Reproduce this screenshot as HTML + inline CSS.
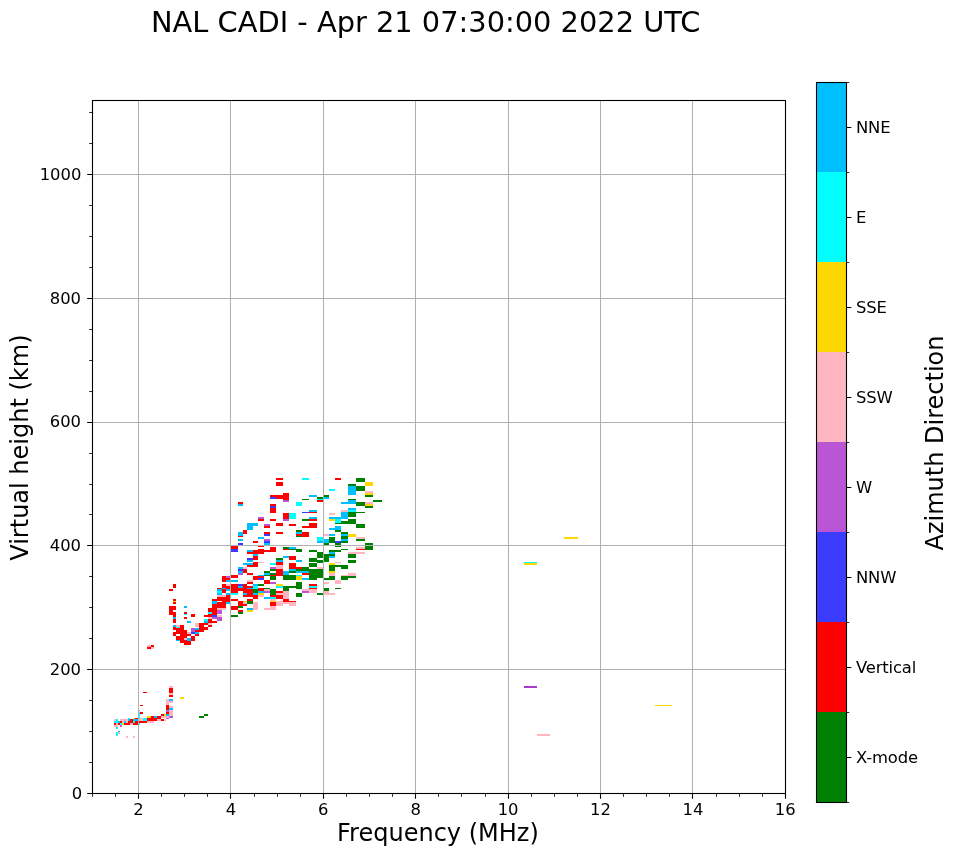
<!DOCTYPE html>
<html lang="en"><head><meta charset="utf-8"><title>NAL CADI - Apr 21 07:30:00 2022 UTC</title>
<style>html,body{margin:0;padding:0;background:#fff}body{width:958px;height:857px;overflow:hidden}svg{display:block}text{font-family:"DejaVu Sans","Liberation Sans",sans-serif;fill:#000}.t{font-size:16.4px}.l{font-size:24px}.ti{font-size:28.85px}</style></head><body>
<svg width="958" height="857" viewBox="0 0 958 857">
<rect width="958" height="857" fill="#fff"/>
<g id="data" shape-rendering="crispEdges">
<path fill="#ff0000" d="M140 705h3v1h-3zM140 712h3v2h-3zM161 714h3v2h-3zM151 716h3v2h-3zM157 716h4v2h-4zM135 718h3v1h-3zM147 718h10v3h-10zM157 718h4v1h-4zM161 719h3v2h-3zM130 719h3v4h-3zM120 721h2v2h-2zM128 721h5v2h-5zM135 721h3v2h-3zM139 721h8v2h-8zM114 723h2v2h-2zM118 723h2v2h-2zM124 723h6v2h-6zM133 723h5v2h-5zM169 688h4v5h-4zM169 695h4v2h-4zM166 705h3v5h-3zM166 712h3v2h-3zM173 599h3v2h-3zM173 602h3v2h-3zM169 606h7v4h-7zM169 610h4v2h-4zM169 612h7v3h-7zM173 615h3v2h-3zM173 619h3v4h-3zM173 627h3v3h-3zM173 632h3v4h-3zM176 628h4v6h-4zM176 636h4v4h-4zM180 625h4v18h-4zM184 612h3v2h-3zM184 617h3v2h-3zM184 630h3v8h-3zM184 640h3v5h-3zM187 634h4v2h-4zM187 641h4v4h-4zM191 614h4v3h-4zM191 636h4v5h-4zM195 630h4v2h-4zM195 634h4v2h-4zM199 623h5v9h-5zM204 615h4v2h-4zM204 623h4v2h-4zM204 627h4v3h-4zM208 608h4v4h-4zM208 614h4v3h-4zM208 619h4v4h-4zM208 625h4v2h-4zM212 599h5v2h-5zM212 604h5v11h-5zM212 621h5v2h-5zM217 597h5v4h-5zM217 602h5v6h-5zM173 584h3v4h-3zM169 589h4v2h-4zM151 645h3v2h-3zM147 647h4v2h-4zM143 692h4v1h-4zM217 588h5v1h-5zM222 576h4v6h-4zM222 584h4v4h-4zM222 589h4v4h-4zM222 597h4v11h-4zM226 578h4v2h-4zM226 586h4v3h-4zM226 595h4v7h-4zM231 575h7v3h-7zM231 584h7v9h-7zM231 599h7v2h-7zM231 606h7v4h-7zM238 588h5v3h-5zM238 601h5v5h-5zM238 610h5v2h-5zM243 584h4v9h-4zM243 595h4v2h-4zM243 604h4v2h-4zM247 582h6v2h-6zM247 586h6v2h-6zM247 589h6v8h-6zM247 599h6v2h-6zM253 576h5v4h-5zM253 595h5v4h-5zM258 576h6v2h-6zM258 588h6v3h-6zM264 580h6v4h-6zM231 545h7v4h-7zM238 536h5v1h-5zM243 530h4v4h-4zM243 569h4v4h-4zM247 552h6v2h-6zM247 565h6v2h-6zM247 573h6v2h-6zM253 541h5v2h-5zM253 550h5v4h-5zM253 556h5v4h-5zM253 562h5v5h-5zM258 546h6v1h-6zM258 549h6v5h-6zM264 526h6v2h-6zM264 532h6v2h-6zM264 550h6v2h-6zM238 502h5v2h-5zM258 519h6v2h-6zM270 575h6v1h-6zM270 595h6v2h-6zM270 602h6v4h-6zM276 575h7v1h-7zM276 591h7v2h-7zM276 595h7v4h-7zM283 599h6v3h-6zM289 601h7v1h-7zM309 584h8v2h-8zM309 588h8v1h-8zM270 547h6v5h-6zM276 523h7v3h-7zM276 532h7v2h-7zM276 562h7v3h-7zM276 569h7v7h-7zM283 549h6v1h-6zM289 524h7v2h-7zM289 556h7v4h-7zM289 563h7v6h-7zM296 534h6v2h-6zM296 567h6v2h-6zM302 526h7v2h-7zM302 532h7v5h-7zM302 573h7v2h-7zM309 523h8v5h-8zM270 495h6v2h-6zM270 504h6v2h-6zM270 508h6v5h-6zM270 519h6v2h-6zM276 478h7v2h-7zM276 482h7v4h-7zM276 495h7v4h-7zM283 493h6v7h-6zM283 513h6v6h-6zM309 512h8v1h-8zM309 519h8v2h-8zM317 500h6v2h-6zM356 549h9v1h-9zM335 478h6v2h-6z"/>
<path fill="#ffb6c1" d="M139 710h1v2h-1zM161 716h8v2h-8zM139 718h4v3h-4zM157 719h4v2h-4zM164 719h2v2h-2zM114 719h2v2h-2zM120 719h8v2h-8zM122 721h2v2h-2zM126 721h2v2h-2zM147 721h7v2h-7zM116 723h2v2h-2zM130 723h3v2h-3zM114 725h4v2h-4zM118 732h2v2h-2zM126 736h2v2h-2zM133 736h2v2h-2zM169 686h4v2h-4zM169 693h4v2h-4zM169 701h4v2h-4zM169 706h4v2h-4zM169 710h4v6h-4zM166 699h3v6h-3zM176 625h4v2h-4zM184 638h3v2h-3zM187 632h4v2h-4zM195 623h4v4h-4zM208 617h4v2h-4zM208 623h4v2h-4zM217 595h5v2h-5zM217 608h5v2h-5zM217 615h5v2h-5zM147 645h4v2h-4zM151 647h3v2h-3zM222 595h4v2h-4zM222 608h4v2h-4zM226 584h4v2h-4zM243 602h4v2h-4zM247 580h6v2h-6zM253 602h5v8h-5zM258 595h6v2h-6zM264 589h6v2h-6zM264 608h6v2h-6zM243 567h4v2h-4zM258 562h6v1h-6zM270 599h6v2h-6zM270 606h6v4h-6zM276 593h7v2h-7zM276 601h7v5h-7zM283 591h6v8h-6zM283 602h6v2h-6zM289 602h7v4h-7zM302 589h7v2h-7zM309 589h8v4h-8zM276 565h7v4h-7zM317 567h6v2h-6zM324 582h5v2h-5zM324 591h5v4h-5zM329 573h6v3h-6zM329 593h6v2h-6zM335 562h6v1h-6zM335 580h6v4h-6zM341 575h7v1h-7zM348 573h8v3h-8zM324 534h5v2h-5zM329 513h6v2h-6zM341 510h7v2h-7zM348 552h8v2h-8zM356 537h9v2h-9zM356 547h9v2h-9zM356 552h9v2h-9zM365 491h8v2h-8zM365 502h8v2h-8zM537 734h13v2h-13z"/>
<path fill="#00ffff" d="M139 712h1v7h-1zM128 718h2v1h-2zM143 718h4v3h-4zM116 719h2v2h-2zM114 721h4v2h-4zM133 721h2v2h-2zM120 723h2v2h-2zM139 723h1v2h-1zM116 727h2v2h-2zM116 732h2v4h-2zM176 627h4v1h-4zM184 614h3v1h-3zM204 619h4v2h-4zM208 612h4v2h-4zM217 591h5v2h-5zM231 593h7v2h-7zM253 586h5v3h-5zM270 597h6v2h-6zM276 586h7v2h-7zM296 575h6v1h-6zM309 586h8v2h-8zM270 563h6v2h-6zM317 537h6v4h-6zM289 513h7v6h-7zM296 502h6v4h-6zM302 478h7v2h-7zM317 499h6v1h-6zM335 519h6v4h-6zM348 510h8v2h-8zM329 489h6v2h-6zM524 562h13v1h-13z"/>
<path fill="#ffd700" d="M164 714h2v2h-2zM147 716h4v2h-4zM133 718h2v1h-2zM122 723h2v2h-2zM180 697h4v2h-4zM173 601h3v1h-3zM243 601h4v1h-4zM247 610h6v2h-6zM258 593h6v2h-6zM270 601h6v1h-6zM276 584h7v2h-7zM296 576h6v4h-6zM329 563h6v2h-6zM329 571h6v2h-6zM329 519h6v2h-6zM348 534h8v3h-8zM365 482h8v4h-8zM365 493h8v2h-8zM365 504h8v2h-8zM564 537h14v2h-14zM524 563h13v2h-13zM655 705h17v1h-17z"/>
<path fill="#00bfff" d="M166 714h3v2h-3zM154 716h3v2h-3zM128 719h2v2h-2zM133 719h5v2h-5zM118 721h2v2h-2zM124 721h2v2h-2zM118 731h2v1h-2zM169 699h4v2h-4zM169 708h4v2h-4zM173 617h3v2h-3zM173 625h3v2h-3zM176 640h4v1h-4zM184 606h3v2h-3zM187 621h4v2h-4zM187 638h4v3h-4zM195 628h4v2h-4zM195 632h4v2h-4zM204 621h4v2h-4zM212 601h5v3h-5zM217 589h5v2h-5zM217 593h5v2h-5zM222 588h4v1h-4zM226 580h4v2h-4zM226 589h4v2h-4zM226 593h4v2h-4zM226 602h4v2h-4zM231 580h7v2h-7zM238 586h5v2h-5zM243 593h4v2h-4zM247 588h6v1h-6zM247 608h6v2h-6zM253 584h5v2h-5zM253 593h5v2h-5zM258 575h6v1h-6zM258 591h6v2h-6zM264 597h6v2h-6zM238 532h5v4h-5zM238 539h5v2h-5zM238 567h5v2h-5zM238 571h5v2h-5zM243 563h4v2h-4zM247 523h6v7h-6zM247 550h6v2h-6zM247 560h6v2h-6zM247 563h6v2h-6zM253 523h5v3h-5zM253 554h5v2h-5zM258 537h6v2h-6zM264 543h6v2h-6zM264 573h6v2h-6zM238 504h5v2h-5zM302 578h7v2h-7zM276 560h7v2h-7zM283 556h6v2h-6zM283 571h6v4h-6zM289 547h7v2h-7zM289 569h7v2h-7zM296 532h6v2h-6zM296 560h6v2h-6zM296 571h6v2h-6zM302 571h7v2h-7zM317 541h6v2h-6zM309 495h8v2h-8zM309 510h8v2h-8zM309 517h8v2h-8zM324 539h5v4h-5zM329 517h6v2h-6zM329 528h6v2h-6zM329 534h6v2h-6zM329 552h6v2h-6zM329 556h6v2h-6zM335 517h6v2h-6zM335 526h6v4h-6zM341 512h7v7h-7zM341 534h7v2h-7zM341 539h7v2h-7zM348 508h8v2h-8zM324 497h5v2h-5zM341 502h7v2h-7zM348 486h8v9h-8zM348 500h8v4h-8z"/>
<path fill="#ba55d3" d="M166 718h3v1h-3zM120 725h2v2h-2zM169 716h4v2h-4zM166 710h3v2h-3zM191 628h4v4h-4zM212 617h5v2h-5zM217 610h5v4h-5zM217 617h5v4h-5zM226 576h4v2h-4zM264 591h6v2h-6zM238 573h5v2h-5zM264 524h6v2h-6zM264 539h6v2h-6zM258 517h6v2h-6zM270 582h6v2h-6zM302 591h7v2h-7zM270 567h6v2h-6zM283 500h6v2h-6zM283 519h6v2h-6z"/>
<path fill="#008000" d="M204 714h4v2h-4zM199 716h5v2h-5zM231 615h7v2h-7zM238 606h5v2h-5zM238 612h5v2h-5zM247 601h6v3h-6zM253 589h5v4h-5zM258 584h6v2h-6zM264 575h6v1h-6zM264 588h6v1h-6zM264 571h6v2h-6zM270 576h6v4h-6zM270 589h6v6h-6zM283 575h6v5h-6zM283 586h6v5h-6zM289 575h7v5h-7zM289 586h7v2h-7zM296 582h6v7h-6zM296 593h6v4h-6zM309 575h8v5h-8zM317 575h6v3h-6zM317 593h6v2h-6zM270 569h6v2h-6zM270 573h6v2h-6zM276 558h7v2h-7zM283 547h6v2h-6zM289 549h7v1h-7zM289 571h7v2h-7zM296 530h6v2h-6zM296 536h6v1h-6zM296 549h6v3h-6zM296 569h6v2h-6zM302 567h7v4h-7zM309 550h8v2h-8zM309 558h8v4h-8zM309 563h8v4h-8zM309 569h8v7h-8zM317 552h6v6h-6zM317 560h6v3h-6zM317 569h6v7h-6zM302 499h7v1h-7zM302 519h7v2h-7zM317 497h6v2h-6zM324 560h5v2h-5zM324 578h5v2h-5zM324 588h5v3h-5zM329 565h6v6h-6zM329 576h6v4h-6zM335 565h6v2h-6zM335 588h6v1h-6zM341 565h7v4h-7zM341 576h7v4h-7zM348 560h8v3h-8zM348 576h8v2h-8zM324 543h5v2h-5zM324 554h5v7h-5zM329 537h6v6h-6zM329 550h6v2h-6zM329 554h6v2h-6zM335 523h6v1h-6zM335 530h6v2h-6zM335 543h6v4h-6zM335 550h6v2h-6zM341 521h7v3h-7zM341 532h7v2h-7zM341 536h7v3h-7zM341 541h7v2h-7zM341 549h7v1h-7zM348 512h8v5h-8zM348 519h8v5h-8zM348 554h8v4h-8zM356 512h9v1h-9zM356 524h9v4h-9zM356 539h9v2h-9zM365 543h8v7h-8zM324 495h5v2h-5zM348 484h8v2h-8zM348 499h8v1h-8zM356 478h9v4h-9zM356 486h9v5h-9zM356 502h9v4h-9zM365 495h8v2h-8zM365 506h8v2h-8zM373 500h9v2h-9z"/>
<path fill="#3c3cff" d="M191 632h4v2h-4zM212 615h5v2h-5zM238 584h5v2h-5zM258 578h6v2h-6zM231 549h7v3h-7zM238 543h5v2h-5zM238 569h5v2h-5zM247 558h6v2h-6zM264 534h6v2h-6zM264 541h6v2h-6zM270 497h6v2h-6zM270 506h6v2h-6zM302 512h7v1h-7zM335 541h6v2h-6z"/>
<path fill="#ac3acb" d="M524 686h13v2h-13z"/>
</g>
<path d="M138.5 100.5V793.5M230.5 100.5V793.5M323.5 100.5V793.5M415.5 100.5V793.5M508.5 100.5V793.5M600.5 100.5V793.5M692.5 100.5V793.5M92.5 669.5H785.5M92.5 545.5H785.5M92.5 422.5H785.5M92.5 298.5H785.5M92.5 174.5H785.5" stroke="#b0b0b0" stroke-width="1" fill="none"/>
<path d="M138.5 793.5v5.3M230.5 793.5v5.3M323.5 793.5v5.3M415.5 793.5v5.3M508.5 793.5v5.3M600.5 793.5v5.3M692.5 793.5v5.3M785.5 793.5v5.3M92.5 793.5h-5.3M92.5 669.5h-5.3M92.5 545.5h-5.3M92.5 422.5h-5.3M92.5 298.5h-5.3M92.5 174.5h-5.3" stroke="#000" stroke-width="1.1" fill="none"/>
<path d="M92.5 793.5v3.3M115.5 793.5v3.3M161.5 793.5v3.3M184.5 793.5v3.3M207.5 793.5v3.3M254.5 793.5v3.3M277.5 793.5v3.3M300.5 793.5v3.3M346.5 793.5v3.3M369.5 793.5v3.3M392.5 793.5v3.3M438.5 793.5v3.3M461.5 793.5v3.3M485.5 793.5v3.3M531.5 793.5v3.3M554.5 793.5v3.3M577.5 793.5v3.3M623.5 793.5v3.3M646.5 793.5v3.3M669.5 793.5v3.3M716.5 793.5v3.3M739.5 793.5v3.3M762.5 793.5v3.3M92.5 762.5h-3.3M92.5 731.5h-3.3M92.5 700.5h-3.3M92.5 638.5h-3.3M92.5 607.5h-3.3M92.5 576.5h-3.3M92.5 514.5h-3.3M92.5 484.5h-3.3M92.5 453.5h-3.3M92.5 391.5h-3.3M92.5 360.5h-3.3M92.5 329.5h-3.3M92.5 267.5h-3.3M92.5 236.5h-3.3M92.5 205.5h-3.3M92.5 143.5h-3.3M92.5 112.5h-3.3" stroke="#000" stroke-width="0.83" fill="none"/>
<rect x="92.5" y="100.5" width="693.0" height="693.0" fill="none" stroke="#000" stroke-width="1.1"/>
<text class="t" x="138.50" y="815" text-anchor="middle">2</text>
<text class="t" x="230.90" y="815" text-anchor="middle">4</text>
<text class="t" x="323.30" y="815" text-anchor="middle">6</text>
<text class="t" x="415.70" y="815" text-anchor="middle">8</text>
<text class="t" x="508.10" y="815" text-anchor="middle">10</text>
<text class="t" x="600.50" y="815" text-anchor="middle">12</text>
<text class="t" x="692.90" y="815" text-anchor="middle">14</text>
<text class="t" x="785.30" y="815" text-anchor="middle">16</text>
<text class="t" x="82.30" y="798.70" text-anchor="end">0</text>
<text class="t" x="81.00" y="674.95" text-anchor="end">200</text>
<text class="t" x="81.00" y="551.20" text-anchor="end">400</text>
<text class="t" x="81.00" y="427.45" text-anchor="end">600</text>
<text class="t" x="81.00" y="303.70" text-anchor="end">800</text>
<text class="t" x="81.40" y="179.95" text-anchor="end">1000</text>
<text class="l" x="437.90" y="841.3" text-anchor="middle">Frequency (MHz)</text>
<text class="l" transform="translate(28.4 447.60) rotate(-90)" text-anchor="middle">Virtual height (km)</text>
<text class="ti" x="425.7" y="31.9" text-anchor="middle">NAL CADI - Apr 21 07:30:00 2022 UTC</text>
<rect x="816.5" y="82" width="30.00" height="90.5" fill="#00bfff" shape-rendering="crispEdges"/>
<rect x="816.5" y="172" width="30.00" height="90.5" fill="#00ffff" shape-rendering="crispEdges"/>
<rect x="816.5" y="262" width="30.00" height="90.5" fill="#ffd700" shape-rendering="crispEdges"/>
<rect x="816.5" y="352" width="30.00" height="90.5" fill="#ffb6c1" shape-rendering="crispEdges"/>
<rect x="816.5" y="442" width="30.00" height="90.5" fill="#ba55d3" shape-rendering="crispEdges"/>
<rect x="816.5" y="532" width="30.00" height="90.5" fill="#3c3cff" shape-rendering="crispEdges"/>
<rect x="816.5" y="622" width="30.00" height="90.5" fill="#ff0000" shape-rendering="crispEdges"/>
<rect x="816.5" y="712" width="30.00" height="90.5" fill="#008000" shape-rendering="crispEdges"/>
<rect x="816.5" y="82.5" width="30.00" height="720.00" fill="none" stroke="#000" stroke-width="1.1"/>
<path d="M846.5 127.50h4.86M846.5 217.50h4.86M846.5 307.50h4.86M846.5 397.50h4.86M846.5 487.50h4.86M846.5 577.50h4.86M846.5 667.50h4.86M846.5 757.50h4.86" stroke="#000" stroke-width="1.1" fill="none"/>
<path d="M846.5 82.50h2.78M846.5 172.50h2.78M846.5 262.50h2.78M846.5 352.50h2.78M846.5 442.50h2.78M846.5 532.50h2.78M846.5 622.50h2.78M846.5 712.50h2.78M846.5 802.50h2.78" stroke="#000" stroke-width="0.83" fill="none"/>
<text class="t" x="856.0" y="132.70" letter-spacing="-0.15">NNE</text>
<text class="t" x="856.0" y="222.70" letter-spacing="-0.15">E</text>
<text class="t" x="856.0" y="312.70" letter-spacing="-0.15">SSE</text>
<text class="t" x="856.0" y="402.70" letter-spacing="-0.15">SSW</text>
<text class="t" x="856.0" y="492.70" letter-spacing="-0.15">W</text>
<text class="t" x="856.0" y="582.70" letter-spacing="-0.15">NNW</text>
<text class="t" x="856.0" y="672.70" letter-spacing="-0.15">Vertical</text>
<text class="t" x="856.0" y="762.70" letter-spacing="-0.15">X-mode</text>
<text class="l" transform="translate(943.1 443.00) rotate(-90)" text-anchor="middle">Azimuth Direction</text>
</svg></body></html>
